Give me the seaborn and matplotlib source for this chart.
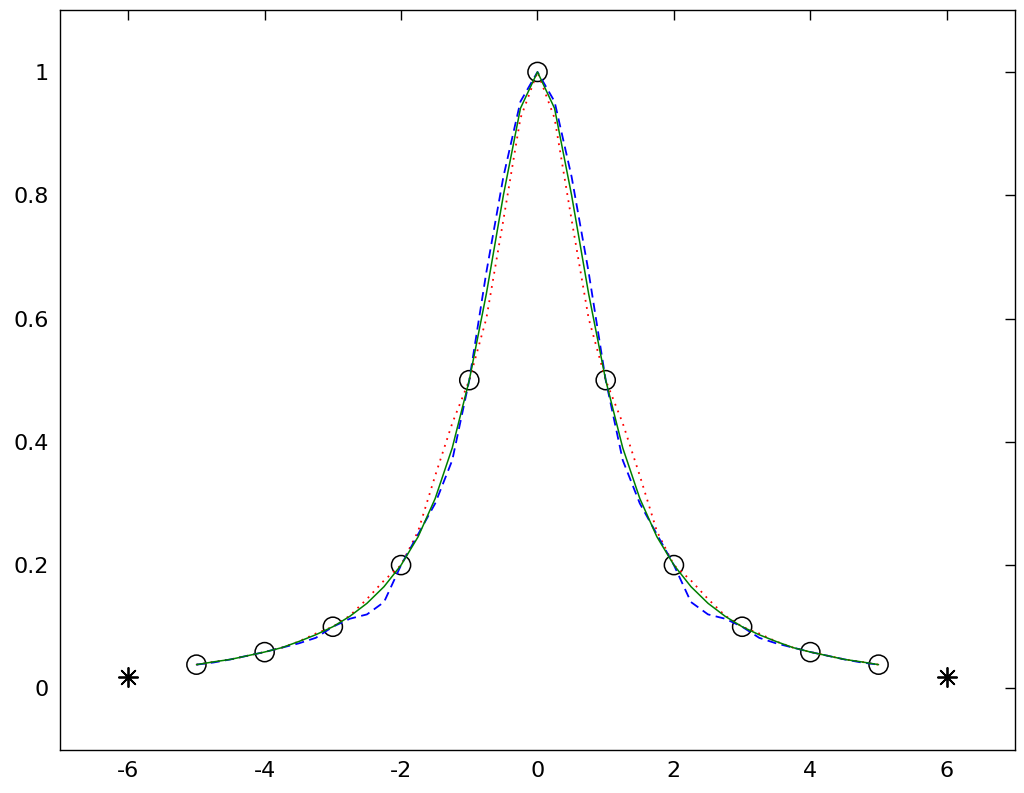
import matplotlib
matplotlib.use("Agg")
import matplotlib.pyplot as plt
import seaborn as sns

# sample nodes (open circles)
x_nodes = [-5, -4, -3, -2, -1, 0, 1, 2, 3, 4, 5]
y_nodes = [0.0385, 0.0588, 0.1, 0.2, 0.5, 1.0, 0.5, 0.2, 0.1, 0.0588, 0.0385]

# extra points (asterisks)
x_stars = [-6, 6]
y_stars = [0.018, 0.018]

# curves, every 0.25
x_curve = [-5.0, -4.75, -4.5, -4.25, -4.0, -3.75, -3.5, -3.25, -3.0, -2.75,
           -2.5, -2.25, -2.0, -1.75, -1.5, -1.25, -1.0, -0.75, -0.5, -0.25,
           0.0, 0.25, 0.5, 0.75, 1.0, 1.25, 1.5, 1.75, 2.0, 2.25,
           2.5, 2.75, 3.0, 3.25, 3.5, 3.75, 4.0, 4.25, 4.5, 4.75, 5.0]

y_green = [0.0385, 0.043, 0.047, 0.053, 0.059, 0.066, 0.076, 0.087, 0.100, 0.117,
           0.138, 0.165, 0.200, 0.246, 0.308, 0.390, 0.500, 0.640, 0.800, 0.941,
           1.000, 0.941, 0.800, 0.640, 0.500, 0.390, 0.308, 0.246, 0.200, 0.165,
           0.138, 0.117, 0.100, 0.087, 0.076, 0.066, 0.059, 0.053, 0.047, 0.043, 0.0385]

y_red = [0.0385, 0.043, 0.047, 0.053, 0.059, 0.066, 0.076, 0.089, 0.100, 0.118,
         0.145, 0.175, 0.200, 0.255, 0.345, 0.430, 0.500, 0.600, 0.760, 0.925,
         1.000, 0.925, 0.760, 0.600, 0.500, 0.430, 0.345, 0.255, 0.200, 0.175,
         0.145, 0.118, 0.100, 0.089, 0.076, 0.066, 0.059, 0.053, 0.047, 0.043, 0.0385]

y_blue = [0.0385, 0.042, 0.047, 0.053, 0.059, 0.066, 0.073, 0.082, 0.100, 0.113,
          0.120, 0.140, 0.200, 0.250, 0.300, 0.370, 0.500, 0.675, 0.830, 0.952,
          1.000, 0.952, 0.830, 0.675, 0.500, 0.370, 0.300, 0.250, 0.200, 0.140,
          0.120, 0.113, 0.100, 0.082, 0.073, 0.066, 0.059, 0.053, 0.047, 0.042, 0.0385]

x_ticks = [-6, -4, -2, 0, 2, 4, 6]
x_ticklabels = ["-6", "-4", "-2", "0", "2", "4", "6"]
y_ticks = [0, 0.2, 0.4, 0.6, 0.8, 1.0]
y_ticklabels = ["0", "0.2", "0.4", "0.6", "0.8", "1"]

sns.set_style("white")
plt.rcParams['font.family'] = ['DejaVu Sans']

fig = plt.figure(figsize=(10.24, 7.93), dpi=100)
ax = fig.add_axes([0.0586, 0.0542, 0.9326, 0.9328])

# markers
sns.scatterplot(x=x_nodes, y=y_nodes, ax=ax, marker='o', s=190,
                facecolor='none', edgecolor='black', linewidth=1.1, zorder=2)
sns.scatterplot(x=x_stars, y=y_stars, ax=ax, marker=(8, 2, 0), s=190,
                color='black', linewidth=1.3, zorder=2)

# curves
sns.lineplot(x=x_curve, y=y_red, ax=ax, color='red', linestyle=(0, (1, 3)),
             linewidth=1.3, sort=False, estimator=None, zorder=3)
sns.lineplot(x=x_curve, y=y_blue, ax=ax, color='blue', linestyle=(0, (5, 3)),
             linewidth=1.3, sort=False, estimator=None, zorder=3)
sns.lineplot(x=x_curve, y=y_green, ax=ax, color='green', linestyle='-',
             linewidth=1.1, sort=False, estimator=None, zorder=4)

ax.set_xlim(-7, 7)
ax.set_ylim(-0.1, 1.1)
ax.set_xticks(x_ticks)
ax.set_xticklabels(x_ticklabels)
ax.set_yticks(y_ticks)
ax.set_yticklabels(y_ticklabels)
ax.tick_params(direction='in', length=7, width=1, labelsize=16, pad=8,
               top=True, right=True, colors='black')
for sp in ax.spines.values():
    sp.set_visible(True)
    sp.set_color('black')
    sp.set_linewidth(1)
ax.set_xlabel("")
ax.set_ylabel("")

fig.savefig("out.png", dpi=100, facecolor='white')
